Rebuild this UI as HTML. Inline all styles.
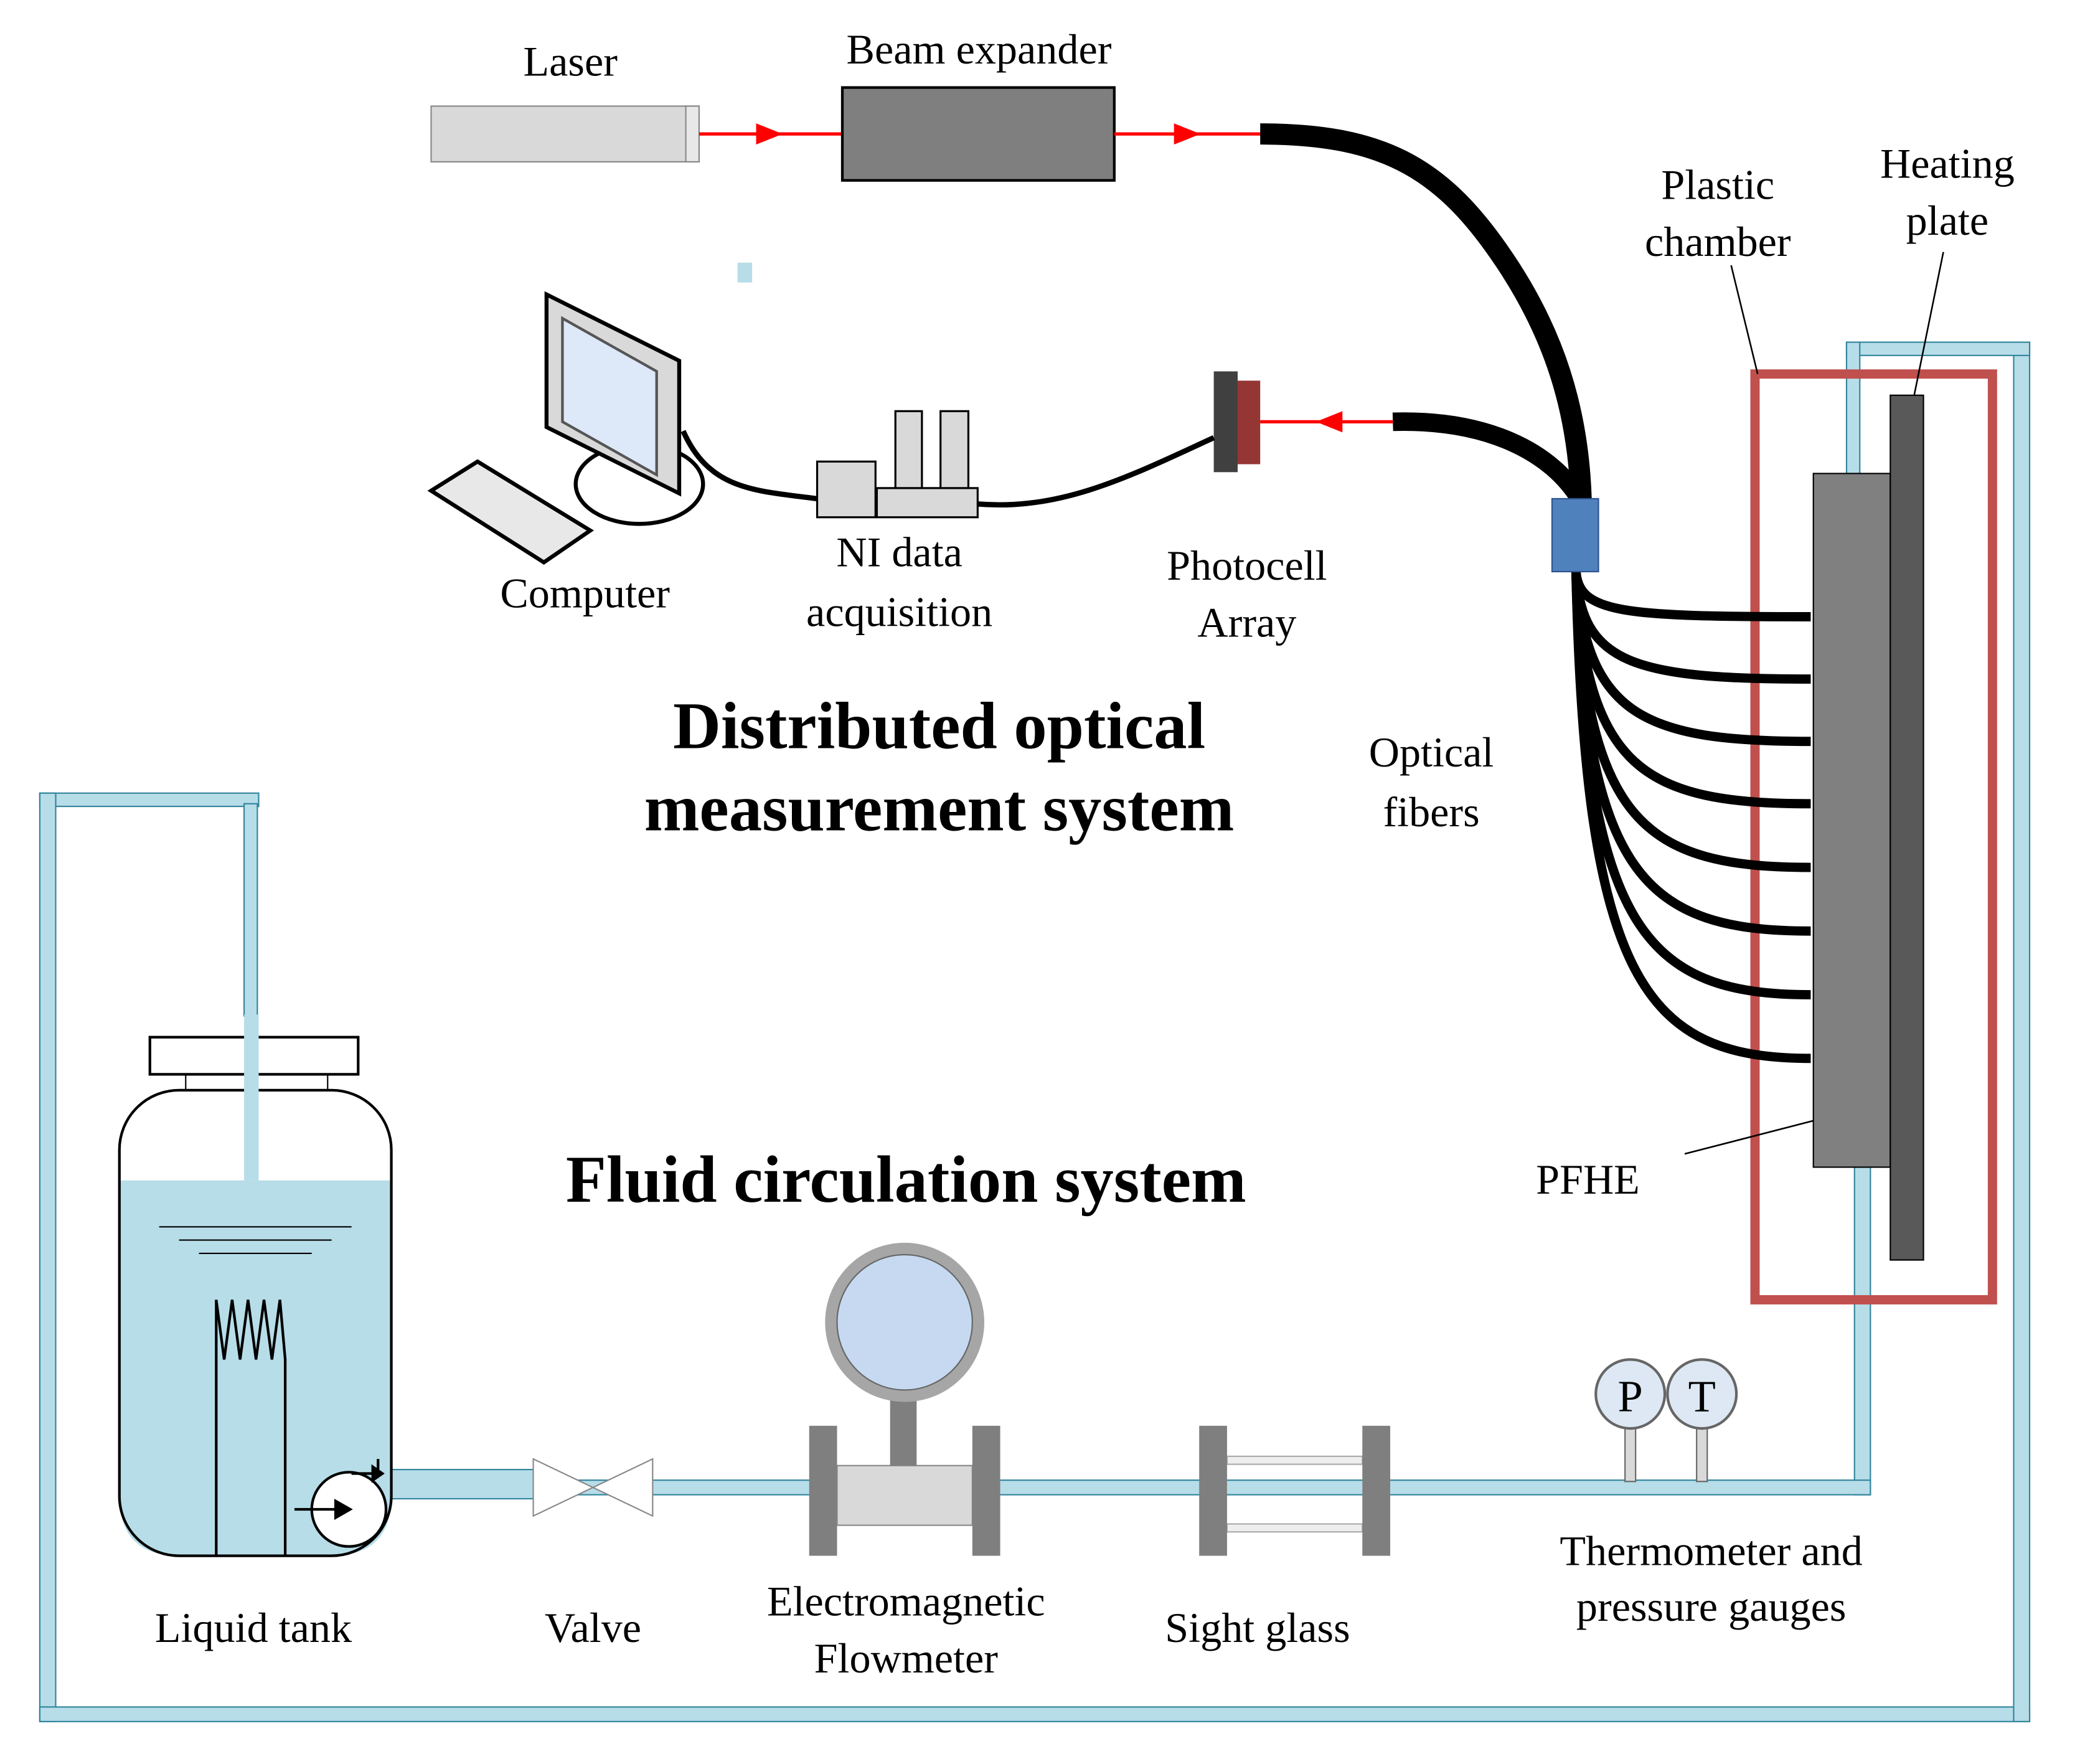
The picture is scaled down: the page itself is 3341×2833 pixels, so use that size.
<!DOCTYPE html>
<html><head><meta charset="utf-8"><style>
html,body{margin:0;padding:0;background:#fff}
svg{display:block}
text{font-family:"Liberation Serif",serif;fill:#000}
</style></head><body>
<svg width="3341" height="2833" viewBox="0 0 1568 1330" preserveAspectRatio="none" xmlns="http://www.w3.org/2000/svg">
<!-- pipes -->
<g fill="#b7dde8" stroke="#31859c" stroke-width="1">
<rect x="30" y="598" width="165" height="10"/>
<rect x="30" y="598" width="12" height="700"/>
<rect x="30" y="1287" width="1500" height="11"/>
<rect x="1518" y="258" width="12" height="1040"/>
<rect x="1392" y="258" width="138" height="10"/>
<rect x="1392" y="258" width="10" height="100"/>
<rect x="1398" y="880" width="12" height="247"/>
<rect x="290" y="1116" width="1120" height="11"/>
<rect x="290" y="1108" width="112" height="22"/>
</g>
<rect x="184" y="606" width="10" height="160" fill="#b7dde8" stroke="#31859c" stroke-width="1"/>
<!-- chamber -->
<rect x="1323" y="282" width="179" height="698" fill="none" stroke="#c0504d" stroke-width="7"/>
<rect x="1367" y="357" width="58" height="523" fill="#808080" stroke="#000"/>
<rect x="1425" y="298" width="25" height="652" fill="#595959" stroke="#000"/>
<!-- laser -->
<rect x="325" y="80" width="202" height="42" fill="#d9d9d9" stroke="#888"/>
<rect x="517" y="80" width="10" height="42" fill="#e8e8e8" stroke="#888"/>
<line x1="527" y1="101" x2="635" y2="101" stroke="#f00" stroke-width="2.5"/>
<path d="M570,93 L590,101 L570,109z" fill="#f00"/>
<rect x="635" y="66" width="205" height="70" fill="#7f7f7f" stroke="#000" stroke-width="2"/>
<line x1="840" y1="101" x2="952" y2="101" stroke="#f00" stroke-width="2.5"/>
<path d="M885,93 L905,101 L885,109z" fill="#f00"/>
<!-- fibers -->
<path d="M950,101 C1040,101 1085,125 1130,190 C1172,250 1190,310 1192,378" fill="none" stroke="#000" stroke-width="16"/>
<path d="M1050,318 C1120,316 1170,340 1192,378" fill="none" stroke="#000" stroke-width="14"/>
<g fill="none" stroke="#000" stroke-width="7">
<path d="M1188,430 C1190,462 1220,465 1365,465"/>
<path d="M1188,430 C1192,500 1230,512 1365,512"/>
<path d="M1188,430 C1195,540 1240,559 1365,559"/>
<path d="M1188,430 C1195,580 1240,606 1365,606"/>
<path d="M1188,430 C1195,620 1240,654 1365,654"/>
<path d="M1188,430 C1195,660 1240,702 1365,702"/>
<path d="M1188,430 C1195,700 1240,750 1365,750"/>
<path d="M1188,430 C1195,740 1240,798 1365,798"/>
</g>
<rect x="1170" y="376" width="35" height="55" fill="#4f81bd" stroke="#2f528f"/>
<!-- photocell -->
<rect x="915" y="280" width="18" height="76" fill="#404040"/>
<rect x="933" y="287" width="17" height="63" fill="#943634"/>
<line x1="950" y1="318" x2="1050" y2="318" stroke="#f00" stroke-width="2.5"/>
<path d="M1012,310 L992,318 L1012,326z" fill="#f00"/>
<rect x="556" y="198" width="11" height="15" fill="#b7dde8"/>
<!-- cables -->
<path d="M515,325 C535,370 570,370 616,376" fill="none" stroke="#000" stroke-width="4"/>
<path d="M737,380 C800,385 850,360 915,330" fill="none" stroke="#000" stroke-width="4"/>
<!-- NI -->
<g fill="#d9d9d9" stroke="#000" stroke-width="1.5">
<rect x="616" y="348" width="44" height="42"/>
<rect x="661" y="368" width="76" height="22"/>
<rect x="675" y="310" width="20" height="58"/>
<rect x="709" y="310" width="21" height="58"/>
</g>
<!-- computer -->
<ellipse cx="482" cy="365" rx="48" ry="30" fill="#fff" stroke="#000" stroke-width="3"/>
<polygon points="412,222 512,272 512,372 412,322" fill="#d9d9d9" stroke="#000" stroke-width="3"/>
<polygon points="424,240 495,280 495,358 424,318" fill="#dde8f8" stroke="#555" stroke-width="2"/>
<polygon points="325,370 360,348 445,400 410,424" fill="#e8e8e8" stroke="#000" stroke-width="3"/>
<!-- tank -->
<path d="M90,890 L295,890 L295,1128 Q295,1173 250,1173 L135,1173 Q90,1173 90,1128z" fill="#b7dde8"/>
<rect x="90" y="822" width="205" height="351" rx="45" fill="none" stroke="#000" stroke-width="2"/>
<rect x="113" y="782" width="157" height="28" fill="#fff" stroke="#000" stroke-width="2"/>
<line x1="140" y1="810" x2="140" y2="822" stroke="#000"/><line x1="247" y1="810" x2="247" y2="822" stroke="#000"/>
<rect x="184" y="765" width="11" height="125" fill="#b7dde8"/>
<g stroke="#000" stroke-width="1"><line x1="120" y1="925" x2="265" y2="925"/><line x1="135" y1="935" x2="250" y2="935"/><line x1="150" y1="945" x2="235" y2="945"/></g>
<path d="M163,1173 L163,980 L169,1025 L175,980 L181,1025 L187,980 L193,1025 L199,980 L205,1025 L211,980 L215,1025 L215,1173" fill="none" stroke="#000" stroke-width="2"/>
<circle cx="263" cy="1138" r="28" fill="#fff" stroke="#000" stroke-width="2"/>
<line x1="222" y1="1138" x2="262" y2="1138" stroke="#000" stroke-width="2"/><path d="M252,1130 L266,1138 L252,1146z"/>
<path d="M265,1111 L285,1111 L285,1100" fill="none" stroke="#000" stroke-width="2"/><path d="M280,1104 L290,1111 L280,1118z"/>
<!-- valve -->
<path d="M402,1100 L492,1143 L492,1100 L402,1143z" fill="#fff" stroke="#888"/>
<!-- flowmeter -->
<rect x="631" y="1105" width="102" height="45" fill="#d9d9d9" stroke="#888"/>
<rect x="610" y="1075" width="21" height="98" fill="#7f7f7f"/>
<rect x="733" y="1075" width="21" height="98" fill="#7f7f7f"/>
<rect x="671" y="1055" width="20" height="50" fill="#7f7f7f"/>
<circle cx="682" cy="997" r="60" fill="#a6a6a6"/>
<circle cx="682" cy="997" r="51" fill="#c6d9f1" stroke="#666"/>
<!-- sight glass -->
<rect x="925" y="1098" width="102" height="6" fill="#eee" stroke="#aaa"/>
<rect x="925" y="1149" width="102" height="6" fill="#eee" stroke="#aaa"/>
<rect x="904" y="1075" width="21" height="98" fill="#7f7f7f"/>
<rect x="1027" y="1075" width="21" height="98" fill="#7f7f7f"/>
<!-- gauges -->
<rect x="1225" y="1075" width="8" height="42" fill="#d9d9d9" stroke="#666"/>
<rect x="1279" y="1075" width="8" height="42" fill="#d9d9d9" stroke="#666"/>
<circle cx="1229" cy="1051" r="26" fill="#dde8f4" stroke="#666" stroke-width="2"/>
<circle cx="1283" cy="1051" r="26" fill="#dde8f4" stroke="#666" stroke-width="2"/>
<text x="1229" y="1064" font-size="34" text-anchor="middle">P</text>
<text x="1283" y="1064" font-size="34" text-anchor="middle">T</text>
<!-- leaders -->
<g stroke="#000" stroke-width="1.2"><line x1="1305" y1="200" x2="1325" y2="282"/><line x1="1465" y1="190" x2="1443" y2="298"/><line x1="1270" y1="870" x2="1367" y2="845"/></g>
<!-- labels -->
<g font-size="32" text-anchor="middle">
<text x="430" y="57">Laser</text>
<text x="738" y="48">Beam expander</text>
<text x="1295" y="150">Plastic</text><text x="1295" y="193">chamber</text>
<text x="1468" y="134">Heating</text><text x="1468" y="177">plate</text>
<text x="441" y="458">Computer</text>
<text x="678" y="427">NI data</text><text x="678" y="472">acquisition</text>
<text x="940" y="437">Photocell</text><text x="940" y="480">Array</text>
<text x="1079" y="578">Optical</text><text x="1079" y="623">fibers</text>
<text x="1197" y="900">PFHE</text>
<text x="191" y="1238">Liquid tank</text>
<text x="447" y="1238">Valve</text>
<text x="683" y="1218">Electromagnetic</text><text x="683" y="1261">Flowmeter</text>
<text x="948" y="1238">Sight glass</text>
<text x="1290" y="1180">Thermometer and</text><text x="1290" y="1222">pressure gauges</text>
</g>
<g font-size="50" font-weight="bold" text-anchor="middle">
<text x="708" y="564">Distributed optical</text>
<text x="708" y="626">measurement system</text>
<text x="683" y="906">Fluid circulation system</text>
</g>
</svg>
</body></html>
